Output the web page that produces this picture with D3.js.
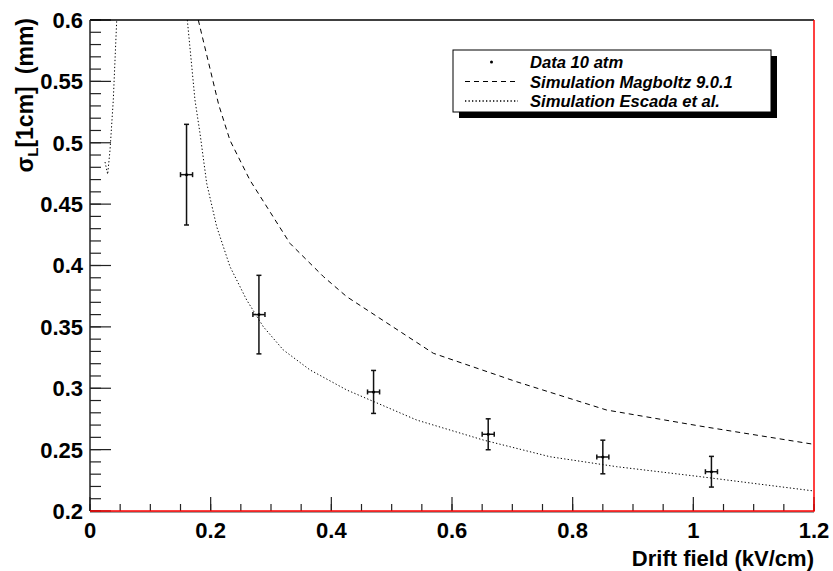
<!DOCTYPE html>
<html lang="en">
<head>
  <meta charset="UTF-8" />
  <title>Longitudinal diffusion vs drift field</title>
  <script src="https://d3js.org/d3.v7.min.js"></script>
  <style>
    body {
      margin: 0;
      overflow: hidden;
      background: #fff;
    }
    text {
      font-family: "Liberation Sans", Arial, Helvetica, sans-serif;
      font-weight: bold;
    }
    .curve {
      fill: none;
      stroke: #000;
      stroke-width: 1;
    }
  </style>
</head>
<body>
<svg width="833" height="571"></svg>
<script>
// measured points (10 atm)
const fieldKV   = [0.16, 0.28, 0.47, 0.66, 0.85, 1.03];
const fieldErr  = [0.01, 0.01, 0.01, 0.01, 0.01, 0.01];
const sigmaL    = [0.474, 0.360, 0.297, 0.2625, 0.244, 0.232];
const sigmaErr  = [0.041, 0.032, 0.0175, 0.0126, 0.0137, 0.0125];

// Magboltz 9.0.1 simulation
const magField = [0.1795, 0.2133, 0.232, 0.265, 0.3315, 0.3868, 0.4255, 0.569, 0.707, 0.856, 1.011, 1.2];
const magSigma = [0.60, 0.531, 0.502, 0.4696, 0.418, 0.391, 0.3746, 0.3285, 0.3053, 0.2823, 0.2692, 0.2543];

// Escada et al. simulation (null = curve leaves the frame)
const escField = [0.0249, 0.0293, 0.0332, 0.0386, 0.0443, null, 0.1613, 0.174, 0.1823, 0.1934, 0.21, 0.232,
                  0.2597, 0.2873, 0.3204, 0.3647, 0.4255, 0.5415, 0.652, 0.7625, 0.873, 1.011, 1.2];
const escSigma = [0.4843, 0.4743, 0.4941, 0.5348, 0.60, null, 0.60, 0.5348, 0.5077, 0.467, 0.4316, 0.3991,
                  0.3719, 0.3501, 0.3312, 0.3149, 0.2986, 0.2741, 0.2578, 0.2442, 0.2361, 0.228, 0.2163];

const xTicks = [0, 0.2, 0.4, 0.6, 0.8, 1, 1.2];
const xTickLabels = ["0", "0.2", "0.4", "0.6", "0.8", "1", "1.2"];
const yTicks = [0.2, 0.25, 0.3, 0.35, 0.4, 0.45, 0.5, 0.55, 0.6];
const yTickLabels = ["0.2", "0.25", "0.3", "0.35", "0.4", "0.45", "0.5", "0.55", "0.6"];

const legendLabels = ["Data 10 atm", "Simulation Magboltz 9.0.1", "Simulation Escada et al."];

const padL = 90, padR = 814, padT = 20, padB = 511;

const svg = d3.select("svg");

const x = d3.scaleLinear().domain([0, 1.2]).range([padL, padR]);
const y = d3.scaleLinear().domain([0.2, 0.6]).range([padB, padT]);

svg.append("clipPath").attr("id", "frame")
  .append("rect")
  .attr("x", padL).attr("y", padT)
  .attr("width", padR - padL).attr("height", padB - padT);

// axes: ROOT style ticks pointing into the frame
const xMinor = d3.range(0, 1.2001, 0.05);
const yMinor = d3.range(0.2, 0.6001, 0.01);

const xAxis = svg.append("g").attr("transform", `translate(0,${padB})`);
xAxis.selectAll(".minor").data(xMinor).enter().append("line")
  .attr("x1", d => x(d)).attr("x2", d => x(d))
  .attr("y1", 0).attr("y2", -7)
  .attr("stroke", "#222").attr("stroke-width", 1.2);
xAxis.selectAll(".major").data(xTicks).enter().append("line")
  .attr("x1", d => x(d)).attr("x2", d => x(d))
  .attr("y1", 0).attr("y2", -14)
  .attr("stroke", "#222").attr("stroke-width", 1.2);
xAxis.selectAll("text").data(xTicks).enter().append("text")
  .attr("x", d => x(d)).attr("y", 27)
  .attr("text-anchor", "middle")
  .attr("font-size", 22)
  .text((d, i) => xTickLabels[i]);

const yAxis = svg.append("g").attr("transform", `translate(${padL},0)`);
yAxis.selectAll(".minor").data(yMinor).enter().append("line")
  .attr("x1", 0).attr("x2", 11)
  .attr("y1", d => y(d)).attr("y2", d => y(d))
  .attr("stroke", "#222").attr("stroke-width", 1.2);
yAxis.selectAll(".major").data(yTicks).enter().append("line")
  .attr("x1", 0).attr("x2", 21)
  .attr("y1", d => y(d)).attr("y2", d => y(d))
  .attr("stroke", "#222").attr("stroke-width", 1.2);
yAxis.selectAll("text").data(yTicks).enter().append("text")
  .attr("x", -7).attr("y", d => y(d))
  .attr("dy", "0.36em")
  .attr("text-anchor", "end")
  .attr("font-size", 22)
  .text((d, i) => yTickLabels[i]);

// frame
svg.append("line").attr("x1", padL).attr("x2", padR).attr("y1", padT).attr("y2", padT)
  .attr("stroke", "#000").attr("stroke-width", 1.5);
svg.append("line").attr("x1", padL).attr("x2", padL).attr("y1", padT).attr("y2", padB)
  .attr("stroke", "#222").attr("stroke-width", 1.5);
svg.append("line").attr("x1", padL).attr("x2", padR).attr("y1", padB + 1).attr("y2", padB + 1)
  .attr("stroke", "#444").attr("stroke-width", 1.2);
svg.append("line").attr("x1", padL).attr("x2", padR + 0.75).attr("y1", padB).attr("y2", padB)
  .attr("stroke", "#f00").attr("stroke-width", 1.5);
svg.append("line").attr("x1", padR).attr("x2", padR).attr("y1", padT).attr("y2", padB)
  .attr("stroke", "#f00").attr("stroke-width", 1.5);

// curves
const plot = svg.append("g").attr("clip-path", "url(#frame)");

const line = d3.line()
  .defined(d => d[0] != null && d[1] != null)
  .x(d => x(d[0])).y(d => y(d[1]));

plot.append("path").attr("class", "curve")
  .attr("d", line(d3.zip(magField, magSigma)))
  .attr("stroke-dasharray", "5,4");

plot.append("path").attr("class", "curve")
  .attr("d", line(d3.zip(escField, escSigma)))
  .attr("stroke-width", 1.4)
  .attr("stroke-dasharray", "1.3,2.2");

// data with error bars
const pts = fieldKV.map((f, i) => ({ f, ef: fieldErr[i], s: sigmaL[i], es: sigmaErr[i] }));
const bars = svg.append("g").attr("stroke", "#111").attr("stroke-width", 1.5);
const cap = 2.5;
pts.forEach(p => {
  const cx = x(p.f), cy = y(p.s);
  const y0 = y(p.s - p.es), y1 = y(p.s + p.es);
  const x0 = x(p.f - p.ef), x1 = x(p.f + p.ef);
  bars.append("line").attr("x1", cx).attr("x2", cx).attr("y1", y0).attr("y2", y1);
  bars.append("line").attr("x1", cx - cap).attr("x2", cx + cap).attr("y1", y0).attr("y2", y0);
  bars.append("line").attr("x1", cx - cap).attr("x2", cx + cap).attr("y1", y1).attr("y2", y1);
  bars.append("line").attr("x1", x0).attr("x2", x1).attr("y1", cy).attr("y2", cy);
  bars.append("line").attr("x1", x0).attr("x2", x0).attr("y1", cy - cap).attr("y2", cy + cap);
  bars.append("line").attr("x1", x1).attr("x2", x1).attr("y1", cy - cap).attr("y2", cy + cap);
  svg.append("circle").attr("cx", cx).attr("cy", cy).attr("r", 1.5).attr("fill", "#000");
});

// axis titles
svg.append("text")
  .attr("x", padR).attr("y", 566)
  .attr("text-anchor", "end")
  .attr("font-size", 22)
  .text("Drift field (kV/cm)");

const yt = svg.append("text")
  .attr("transform", `translate(33,${padT - 2}) rotate(-90)`)
  .attr("text-anchor", "end")
  .attr("font-size", 23);
yt.append("tspan").text("σ");
yt.append("tspan").attr("font-size", 15).attr("dy", 5).text("L");
yt.append("tspan").attr("dy", -5).text("[1cm]");
yt.append("tspan").attr("dx", 12).text("(mm)");

// legend
const lg = { x: 453, y: 50, w: 318, h: 62 };
svg.append("rect")
  .attr("x", lg.x + 6).attr("y", lg.y + 6)
  .attr("width", lg.w).attr("height", lg.h)
  .attr("fill", "#000");
svg.append("rect")
  .attr("x", lg.x).attr("y", lg.y)
  .attr("width", lg.w).attr("height", lg.h)
  .attr("fill", "#fff").attr("stroke", "#000").attr("stroke-width", 1);

const rowY = [62, 81.5, 101];
svg.append("circle").attr("cx", 491.5).attr("cy", rowY[0]).attr("r", 1.5).attr("fill", "#000");
svg.append("line").attr("x1", 465).attr("x2", 518).attr("y1", rowY[1]).attr("y2", rowY[1])
  .attr("stroke", "#000").attr("stroke-dasharray", "5,4");
svg.append("line").attr("x1", 465).attr("x2", 518).attr("y1", rowY[2]).attr("y2", rowY[2])
  .attr("stroke", "#000").attr("stroke-width", 1.3).attr("stroke-dasharray", "1.3,2.2");

svg.selectAll(".leg").data(legendLabels).enter().append("text")
  .attr("class", "leg")
  .attr("x", 530).attr("y", (d, i) => rowY[i] + 6)
  .attr("font-size", 16.6)
  .attr("font-style", "italic")
  .text(d => d);
</script>
</body>
</html>
